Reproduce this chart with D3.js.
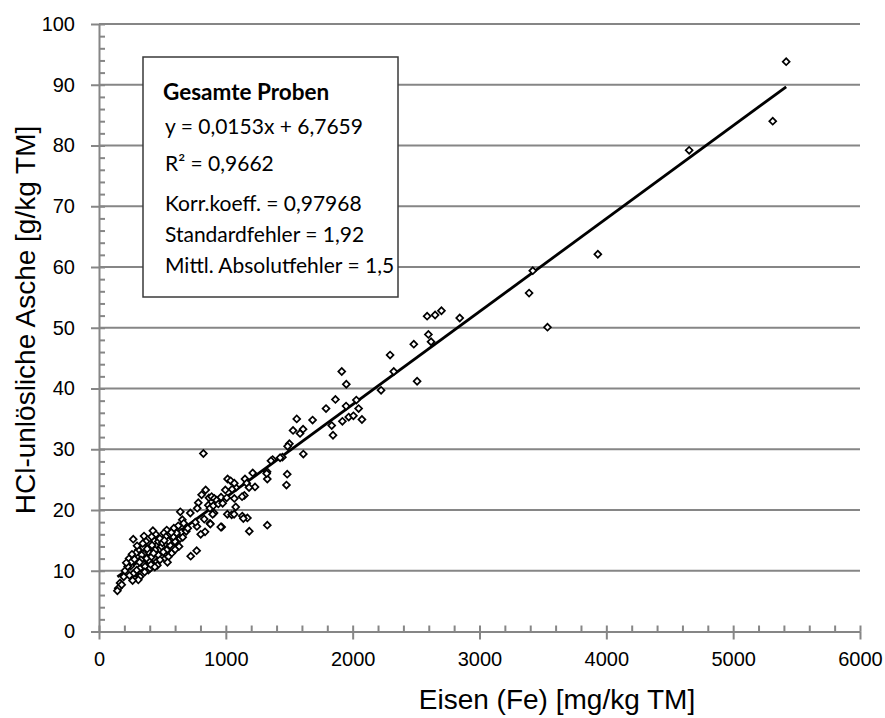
<!DOCTYPE html>
<html lang="de">
<head>
<meta charset="utf-8">
<title>HCl-unlösliche Asche vs. Eisen</title>
<script src="https://d3js.org/d3.v7.min.js"></script>
<style>
  body { margin: 0; background: #fff; }
  .tick text { font-family: "Liberation Sans", Arial, sans-serif; font-size: 20px; fill: #000; }
  .axis path, .axis line { stroke: #868686; stroke-width: 2px; }
  .grid line { stroke: #868686; stroke-width: 2px; }
  .title { font-family: "Liberation Sans", Arial, sans-serif; font-size: 28px; fill: #000; }
  .box text { font-family: Lato, "Open Sans", sans-serif; font-size: 21px; fill: #000; }
</style>
</head>
<body>
<script>
var w = 885, h = 718;

// Eisen (Fe) [mg/kg TM]
var fe = [5418, 5312, 4653, 3933, 3420, 3391, 3536,
  2587, 2650, 2700, 2844, 2597, 2618, 2482, 2295, 2324, 2508, 1914, 1950, 2224, 1864, 1790, 1948, 2029, 2047,
  1684, 1835, 1919, 1969, 2006, 2073, 1845, 1609,
  1559, 1530, 1585, 1611, 1501, 1487, 1484, 1478, 1446, 1428, 1369, 1356, 1325, 1327, 823, 1212, 1230, 1151,
  1165, 1183, 1078, 1014, 1038, 1067, 1049, 1146, 1128, 996, 841, 809, 867, 888, 909, 928, 962, 1007, 1067,
  1078, 783, 775, 862, 875, 901, 941, 975, 907, 1012, 1046, 1130, 1170,
  1185, 1327, 1138, 967, 875, 1065, 1322,
  641, 896, 830, 878, 772, 836, 802, 960, 657, 625, 668, 647, 639, 625, 599, 688, 770, 723, 534, 512, 528,
  447, 435, 355, 270, 371, 310, 304, 237, 250, 205, 166, 152, 145, 179, 278, 286, 323, 350, 376, 402, 468,
  520, 534, 442, 494, 336, 389, 418, 468, 415, 573, 560, 586, 612, 363, 297, 257, 226, 389, 323, 310, 455,
  507, 415, 481, 547, 265, 631, 547, 402, 720, 700, 760, 600, 660, 270, 330, 290, 240, 350, 430, 460, 500,
  410, 380, 345, 320, 280, 260, 300, 425, 480, 540, 515, 590, 195, 215, 360, 440, 570];

// HCl-unlösliche Asche [g/kg TM]
var asche = [93.8, 84.0, 79.2, 62.1, 59.4, 55.7, 50.1,
  51.9, 52.1, 52.8, 51.6, 48.9, 47.7, 47.3, 45.5, 42.8, 41.2, 42.8, 40.7, 39.7, 38.2, 36.7, 37.1, 38.1, 36.7,
  34.8, 33.9, 34.6, 35.3, 35.5, 34.9, 32.3, 33.3,
  35.0, 33.1, 32.6, 29.2, 30.9, 30.5, 25.9, 24.1, 28.7, 28.6, 28.3, 28.1, 26.3, 25.1, 29.3, 26.1, 23.8, 25.1,
  24.4, 23.7, 23.7, 25.1, 24.8, 24.4, 23.4, 22.4, 22.2, 23.3, 23.3, 22.5, 22.0, 22.2, 21.9, 21.6, 22.1, 22.0, 21.9,
  20.5, 21.2, 20.3, 20.8, 20.3, 20.7, 21.0, 21.1, 19.5, 19.3, 19.2, 19.0, 18.7,
  16.5, 17.5, 18.6, 17.2, 17.8, 19.3, 26.0,
  19.7, 19.3, 18.5, 17.7, 17.3, 16.4, 16.0, 17.2, 18.4, 17.4, 17.8, 16.3, 15.3, 14.0, 14.8, 16.5, 13.3, 12.4, 16.7, 16.2, 15.6,
  16.0, 14.9, 15.7, 15.2, 14.8, 13.4, 12.4, 12.0, 10.8, 10.0, 8.0, 7.1, 6.7, 7.7, 8.8, 9.6, 10.4, 11.2, 12.0, 11.5, 12.6,
  12.0, 13.4, 13.4, 14.0, 12.6, 13.1, 14.2, 14.8, 15.6, 12.9, 14.2, 15.6, 16.2, 10.7, 10.1, 11.5, 10.7, 10.1, 9.0, 8.5, 11.5,
  13.1, 12.3, 11.8, 14.9, 8.4, 14.0, 12.3, 10.4, 19.5, 17.0, 18.0, 13.5, 15.5, 9.5, 11.8, 12.9, 9.2, 13.8, 12.9, 10.9, 14.6,
  11.0, 13.6, 14.5, 11.4, 11.9, 12.7, 14.1, 16.6, 15.3, 11.4, 15.0, 17.0, 9.0, 11.3, 9.8, 10.6, 16.3];

var xMajor = [0, 1000, 2000, 3000, 4000, 5000, 6000];
var yMajor = [0, 10, 20, 30, 40, 50, 60, 70, 80, 90, 100];

// Trendlinie
var slope = 0.0153, intercept = 6.7659;

var statLines = ["y = 0,0153x + 6,7659", "R\u00b2 = 0,9662", "Korr.koeff. = 0,97968",
  "Standardfehler = 1,92", "Mittl. Absolutfehler = 1,5"];

var x0 = 99, x1 = 860, y0 = 631.5, y1 = 24;

var svg = d3.select("body").append("svg")
    .attr("width", w)
    .attr("height", h);

var x = d3.scaleLinear().domain([0, 6000]).range([x0, x1]);
var y = d3.scaleLinear().domain([0, 100]).range([y0, y1]);

// horizontal gridlines
svg.append("g").attr("class", "grid")
  .selectAll("line")
  .data(yMajor.slice(1))
  .enter().append("line")
    .attr("x1", x0).attr("x2", x1)
    .attr("y1", function (d) { return y(d); })
    .attr("y2", function (d) { return y(d); });

// text box
var box = svg.append("g").attr("class", "box");
box.append("rect")
    .attr("x", 143).attr("y", 57)
    .attr("width", 255).attr("height", 240)
    .attr("fill", "#fff")
    .attr("stroke", "#3a3a3a")
    .attr("stroke-width", 1.5);
box.append("text")
    .attr("x", 163).attr("y", 100)
    .attr("font-weight", "bold")
    .style("font-size", "22.5px")
    .text("Gesamte Proben");
var baselines = [134, 171, 211, 242, 273];
box.selectAll("text.stat")
  .data(statLines)
  .enter().append("text")
    .attr("class", "stat")
    .attr("x", 165)
    .attr("y", function (d, i) { return baselines[i]; })
    .text(function (d) { return d; });

// y axis: minor ticks inside, major ticks outside with labels
svg.append("g").attr("class", "axis")
    .attr("transform", "translate(" + x0 + ",0)")
    .call(d3.axisRight(y).tickValues(d3.range(0, 101, 2)).tickSize(6).tickFormat(""))
    .select(".domain").remove();
svg.append("g").attr("class", "axis")
    .attr("transform", "translate(" + x0 + ",0)")
    .call(d3.axisLeft(y).tickValues(yMajor).tickSize(8).tickPadding(16).tickSizeOuter(0));

// x axis
svg.append("g").attr("class", "axis")
    .attr("transform", "translate(0," + y0 + ")")
    .call(d3.axisTop(x).tickValues(d3.range(0, 6001, 200)).tickSize(6).tickFormat(""))
    .select(".domain").remove();
svg.append("g").attr("class", "axis")
    .attr("transform", "translate(0," + y0 + ")")
    .call(d3.axisBottom(x).tickValues(xMajor).tickFormat(d3.format("d"))
      .tickSize(8).tickPadding(12).tickSizeOuter(0));

// regression line
var xmin = d3.min(fe), xmax = d3.max(fe);
svg.append("line")
    .attr("x1", x(xmin)).attr("y1", y(slope * xmin + intercept))
    .attr("x2", x(xmax)).attr("y2", y(slope * xmax + intercept))
    .attr("stroke", "#000")
    .attr("stroke-width", 2.8);

// data points (diamonds)
var diamond = d3.symbol().type(d3.symbolSquare).size(24);
svg.append("g")
  .selectAll("path")
  .data(d3.zip(fe, asche))
  .enter().append("path")
    .attr("d", diamond)
    .attr("transform", function (d) { return "translate(" + x(d[0]) + "," + y(d[1]) + ") rotate(45)"; })
    .attr("fill", "#fff")
    .attr("stroke", "#000")
    .attr("stroke-width", 1.7);

// axis titles
svg.append("text").attr("class", "title")
    .attr("x", 557).attr("y", 709)
    .attr("text-anchor", "middle")
    .text("Eisen (Fe) [mg/kg TM]");
svg.append("text").attr("class", "title")
    .attr("transform", "translate(35,320) rotate(-90)")
    .attr("text-anchor", "middle")
    .text("HCl-unlösliche Asche [g/kg TM]");
</script>
</body>
</html>
